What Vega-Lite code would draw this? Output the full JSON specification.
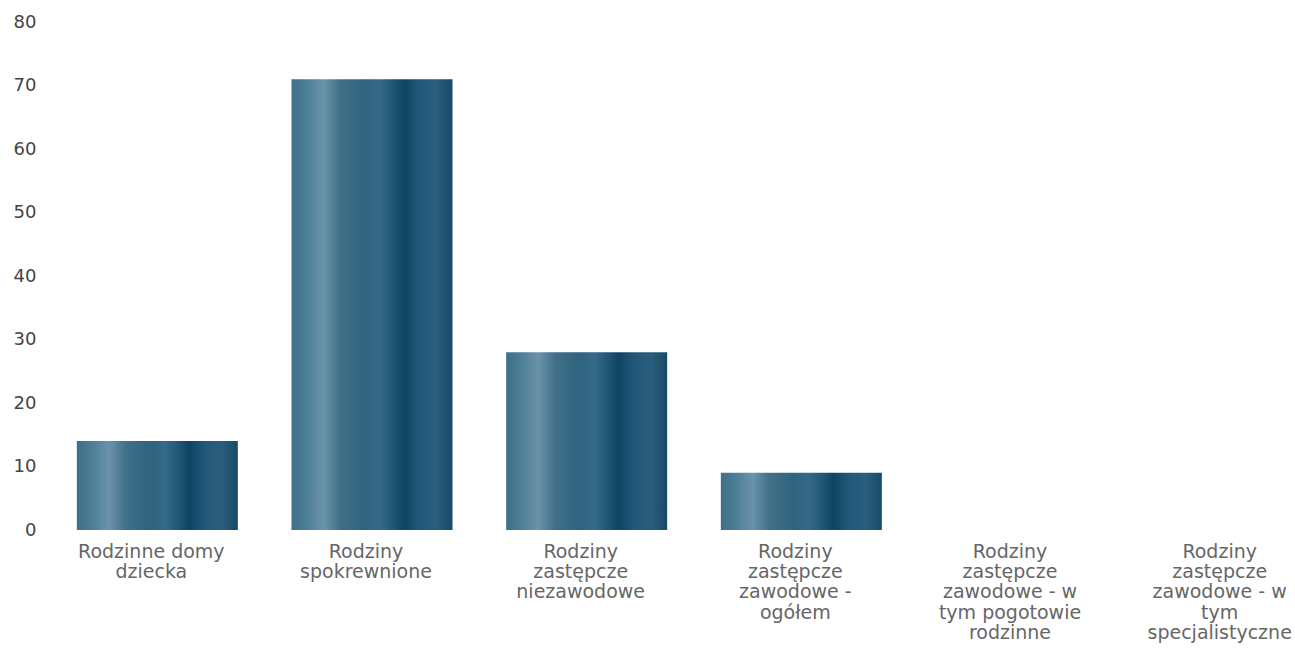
{
  "$schema": "https://vega.github.io/schema/vega-lite/v6.json",
  "autosize": {"type": "none"},
  "padding": {"left": 50, "top": 22, "right": 0, "bottom": 123},
  "width": 1245,
  "height": 508,
  "background": "white",
  "config": {"view": {"stroke": null}},
  "data": {
    "values": [
      {"kategoria": "Rodzinne domy\ndziecka", "liczba": 14},
      {"kategoria": "Rodziny\nspokrewnione", "liczba": 71},
      {"kategoria": "Rodziny\nzastępcze\nniezawodowe", "liczba": 28},
      {"kategoria": "Rodziny\nzastępcze\nzawodowe -\nogółem", "liczba": 9},
      {"kategoria": "Rodziny\nzastępcze\nzawodowe - w\ntym pogotowie\nrodzinne", "liczba": 0},
      {"kategoria": "Rodziny\nzastępcze\nzawodowe - w\ntym\nspecjalistyczne", "liczba": 0}
    ]
  },
  "mark": {
    "type": "bar",
    "color": {
      "gradient": "linear",
      "x1": 0, "x2": 1, "y1": 0, "y2": 0,
      "stops": [
        {"offset": 0, "color": "#3e6f88"},
        {"offset": 0.1, "color": "#4f7f98"},
        {"offset": 0.2, "color": "#6b93aa"},
        {"offset": 0.3, "color": "#417189"},
        {"offset": 0.45, "color": "#2f637e"},
        {"offset": 0.55, "color": "#35698a"},
        {"offset": 0.7, "color": "#0f4562"},
        {"offset": 0.8, "color": "#22587a"},
        {"offset": 0.9, "color": "#2b5e7c"},
        {"offset": 1, "color": "#184a66"}
      ]
    }
  },
  "encoding": {
    "x": {
      "field": "kategoria",
      "type": "nominal",
      "sort": null,
      "scale": {"paddingInner": 0.25, "paddingOuter": 0.125, "range": [0, 1288]},
      "axis": {
        "title": null,
        "domain": false,
        "ticks": false,
        "labelAngle": 0,
        "labelExpr": "split(datum.label, '\\n')",
        "labelFont": "DejaVu Sans",
        "labelFontSize": 19,
        "labelLineHeight": 20.4,
        "labelColor": "#666666",
        "labelPadding": 12,
        "labelBaseline": "top",
        "labelLimit": 300,
        "labelOffset": {"condition": {"test": "datum.index == 1", "value": -11}, "value": -6}
      }
    },
    "y": {
      "field": "liczba",
      "type": "quantitative",
      "scale": {"domain": [0, 80]},
      "axis": {
        "title": null,
        "domain": false,
        "ticks": false,
        "grid": false,
        "values": [0, 10, 20, 30, 40, 50, 60, 70, 80],
        "labelFont": "DejaVu Sans",
        "labelFontSize": 18,
        "labelColor": "#444444",
        "labelPadding": 14
      }
    }
  }
}
